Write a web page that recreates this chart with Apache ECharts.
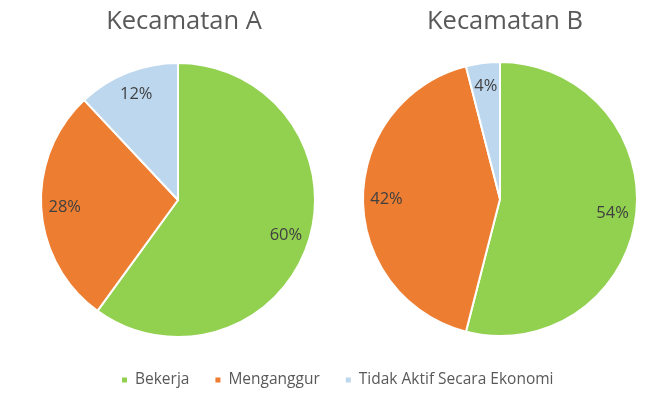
<!DOCTYPE html>
<html>
<head>
<meta charset="utf-8">
<script src="https://cdn.jsdelivr.net/npm/echarts@6/dist/echarts.min.js"></script>
<style>
    html, body { margin: 0; padding: 0; background: #fff; }
    #main { width: 658px; height: 398px; }
</style>
</head>
<body>
<div id="main"></div>
<script>
    var categories = ['Bekerja', 'Menganggur', 'Tidak Aktif Secara Ekonomi'];
    var valuesA = [60, 28, 12];
    var valuesB = [54, 42, 4];
    var titles = ['Kecamatan A', 'Kecamatan B'];
    var colors = ['#92D050', '#ED7D31', '#BDD7EE'];

    var fontName = '"Open Sans", "Noto Sans", sans-serif';

    function toData(values) {
        var arr = [];
        for (var i = 0; i < values.length; i++) {
            arr.push({ name: categories[i], value: values[i] });
        }
        return arr;
    }

    function pieSeries(values, center) {
        // pie itself
        var main = {
            type: 'pie',
            center: center,
            radius: [0, 137],
            startAngle: 90,
            clockwise: true,
            data: toData(values),
            label: { show: false },
            labelLine: { show: false },
            itemStyle: { borderColor: '#fff', borderWidth: 2 },
            emphasis: { disabled: true }
        };
        // transparent ring only to place labels near the rim
        var labels = {
            type: 'pie',
            center: center,
            radius: [84, 137],
            startAngle: 90,
            clockwise: true,
            silent: true,
            data: toData(values),
            itemStyle: { color: 'rgba(0,0,0,0)' },
            label: {
                show: true,
                position: 'inside',
                formatter: '{c}%',
                color: '#404040',
                fontSize: 16.5,
                fontFamily: fontName
            },
            labelLine: { show: false },
            emphasis: { disabled: true }
        };
        return [main, labels];
    }

    var myChart = echarts.init(document.getElementById('main'));

    var option = {
        color: colors,
        animation: false,
        title: [
            {
                text: titles[0], left: 179, top: 4, textAlign: 'center',
                textStyle: { fontSize: 25.5, fontWeight: 'normal', color: '#595959', fontFamily: fontName }
            },
            {
                text: titles[1], left: 500, top: 4, textAlign: 'center',
                textStyle: { fontSize: 25.5, fontWeight: 'normal', color: '#595959', fontFamily: fontName }
            }
        ],
        legend: {
            data: categories,
            bottom: 5,
            left: 115,
            icon: 'rect',
            itemWidth: 7,
            itemHeight: 7,
            itemGap: 24,
            textStyle: { fontSize: 15.5, color: '#595959', fontFamily: fontName, padding: [0, 0, 0, 2] }
        },
        series: pieSeries(valuesA, [178, 200]).concat(pieSeries(valuesB, [500, 199]))
    };

    myChart.setOption(option);
</script>
</body>
</html>
